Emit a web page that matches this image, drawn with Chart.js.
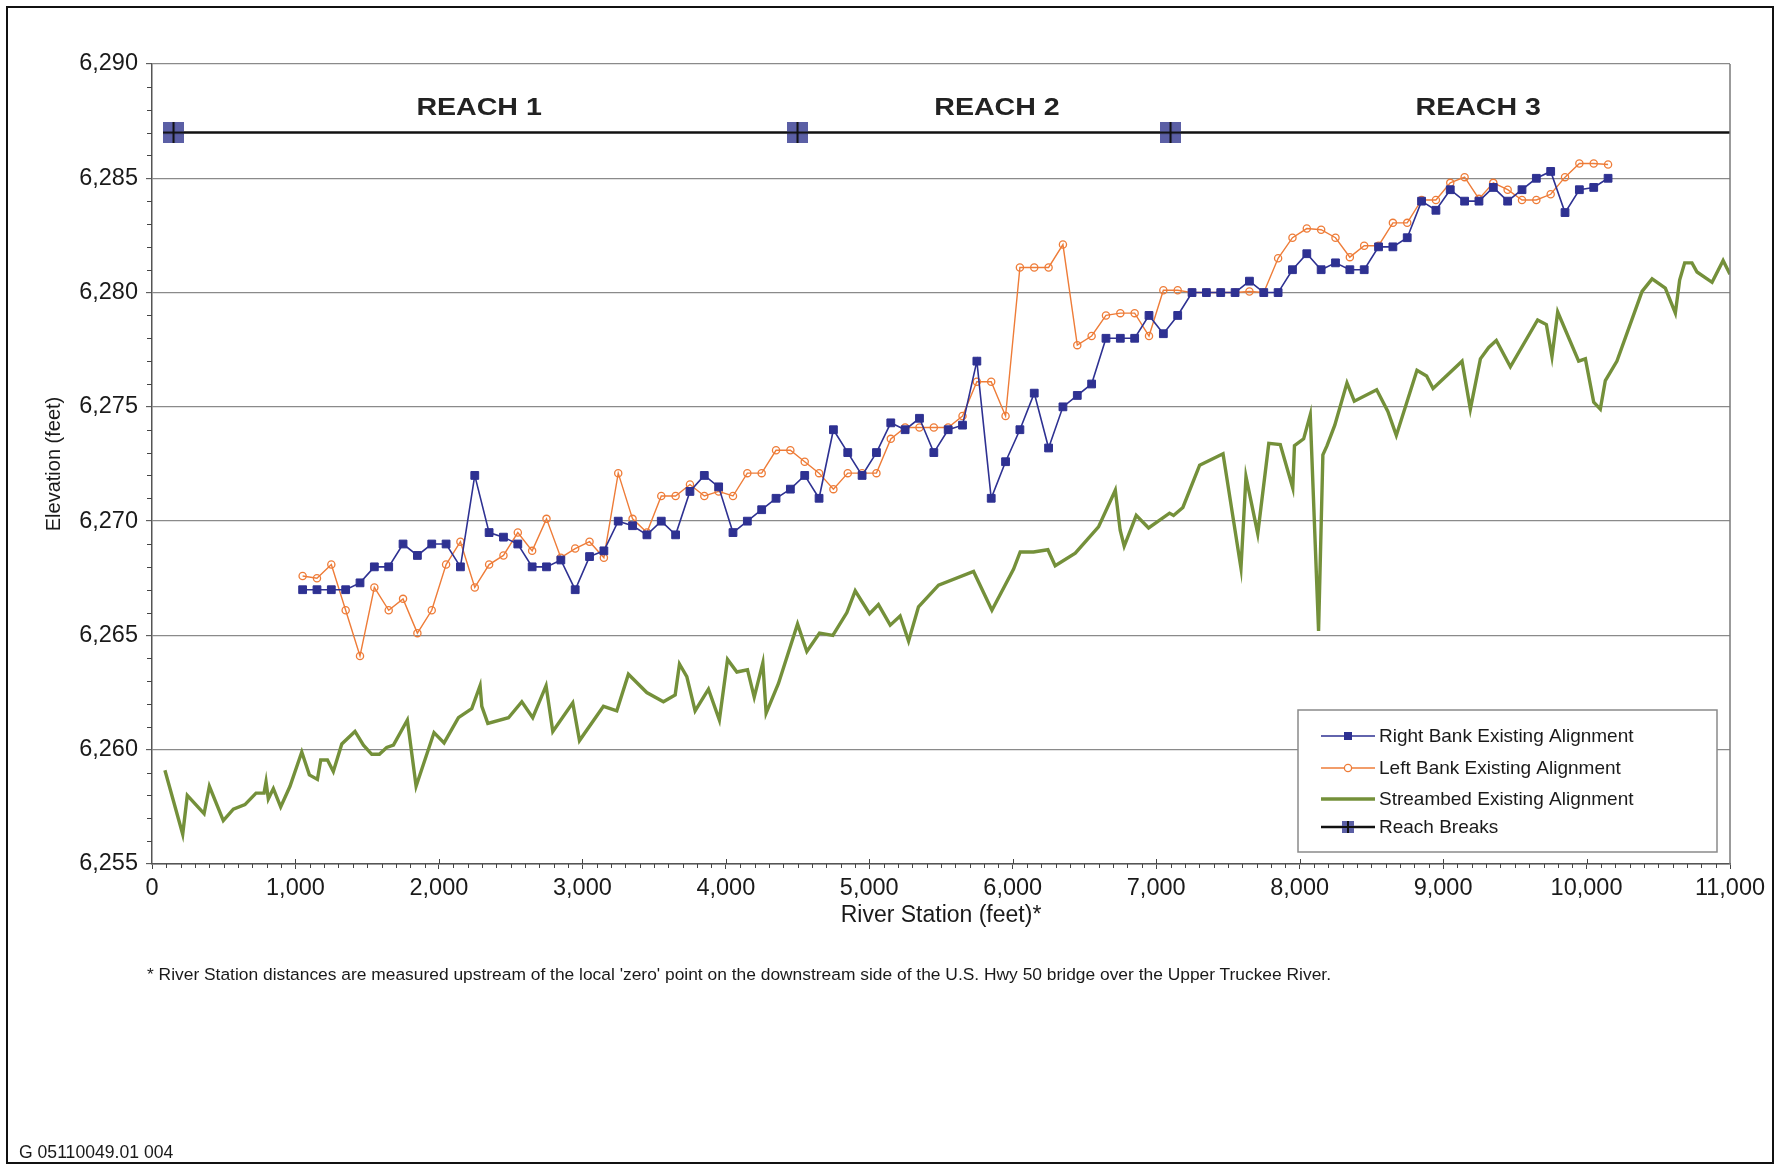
<!DOCTYPE html>
<html lang="en">
<head>
<meta charset="UTF-8">
<title>Upper Truckee River - Existing Alignment Profile</title>
<script src="https://cdn.jsdelivr.net/npm/chart.js"></script>
<style>
  html, body { margin: 0; padding: 0; background: #fff; }
  body {
    width: 1781px;
    height: 1167px;
    position: relative;
    overflow: hidden;
    font-family: 'Liberation Sans', Arial, sans-serif;
    color: #1a1a1a;
  }
  #frame {
    position: absolute;
    left: 6px; top: 6px;
    width: 1768px; height: 1158px;
    border: 2.5px solid #111;
    box-sizing: border-box;
  }
  #chart { position: absolute; left: 0; top: 0; }
  .note {
    position: absolute;
    white-space: nowrap;
    line-height: 1;
  }
  #footnote { left: 147px; top: 966px; font-size: 17.4px; }
  #code { left: 19px; top: 1144px; font-size: 17.6px; }
</style>
</head>
<body>

<div id="frame"></div>
<canvas id="chart" width="1781" height="1167"></canvas>
<div class="note" id="footnote">* River Station distances are measured upstream of the local 'zero' point on the downstream side of the U.S. Hwy 50 bridge over the Upper Truckee River.</div>
<div class="note" id="code">G 05110049.01 004</div>

<script>
  // river stations (feet) of the surveyed bank points
  const bankStations = [
    1050, 1150, 1250, 1350, 1450, 1550, 1650, 1750, 1850, 1950,
    2050, 2150, 2250, 2350, 2450, 2550, 2650, 2750, 2850, 2950,
    3050, 3150, 3250, 3350, 3450, 3550, 3650, 3750, 3850, 3950,
    4050, 4150, 4250, 4350, 4450, 4550, 4650, 4750, 4850, 4950,
    5050, 5150, 5250, 5350, 5450, 5550, 5650, 5750, 5850, 5950,
    6050, 6150, 6250, 6350, 6450, 6550, 6650, 6750, 6850, 6950,
    7050, 7150, 7250, 7350, 7450, 7550, 7650, 7750, 7850, 7950,
    8050, 8150, 8250, 8350, 8450, 8550, 8650, 8750, 8850, 8950,
    9050, 9150, 9250, 9350, 9450, 9550, 9650, 9750, 9850, 9950,
    10050, 10150
  ];

  const rightBank = [
    6267, 6267, 6267, 6267, 6267.3, 6268, 6268, 6269, 6268.5, 6269,
    6269, 6268, 6272, 6269.5, 6269.3, 6269, 6268, 6268, 6268.3, 6267,
    6268.45, 6268.7, 6270, 6269.8, 6269.4, 6270, 6269.4, 6271.3, 6272, 6271.5,
    6269.5, 6270, 6270.5, 6271, 6271.4, 6272, 6271, 6274, 6273, 6272,
    6273, 6274.3, 6274, 6274.5, 6273, 6274, 6274.2, 6277, 6271, 6272.6,
    6274, 6275.6, 6273.2, 6275, 6275.5, 6276, 6278, 6278, 6278, 6279,
    6278.2, 6279, 6280, 6280, 6280, 6280, 6280.5, 6280, 6280, 6281,
    6281.7, 6281, 6281.3, 6281, 6281, 6282, 6282, 6282.4, 6284, 6283.6,
    6284.5, 6284, 6284, 6284.6, 6284, 6284.5, 6285, 6285.3, 6283.5, 6284.5,
    6284.6, 6285
  ];

  const leftBank = [
    6267.6, 6267.5, 6268.1, 6266.1, 6264.1, 6267.1, 6266.1, 6266.6, 6265.1, 6266.1,
    6268.1, 6269.1, 6267.1, 6268.1, 6268.5, 6269.5, 6268.7, 6270.1, 6268.4, 6268.8,
    6269.1, 6268.4, 6272.1, 6270.1, 6269.5, 6271.1, 6271.1, 6271.6, 6271.1, 6271.3,
    6271.1, 6272.1, 6272.1, 6273.1, 6273.1, 6272.6, 6272.1, 6271.4, 6272.1, 6272.1,
    6272.1, 6273.6, 6274.1, 6274.1, 6274.1, 6274.1, 6274.6, 6276.1, 6276.1, 6274.6,
    6281.1, 6281.1, 6281.1, 6282.1, 6277.7, 6278.1, 6279, 6279.1, 6279.1, 6278.1,
    6280.1, 6280.1, 6280, 6280, 6280, 6280, 6280.05, 6280, 6281.5, 6282.4,
    6282.8, 6282.75, 6282.4, 6281.55, 6282.05, 6282.05, 6283.05, 6283.05, 6284.05, 6284.05,
    6284.8, 6285.05, 6284.1, 6284.8, 6284.5, 6284.05, 6284.05, 6284.3, 6285.05, 6285.65,
    6285.65, 6285.6
  ];

  // streambed thalweg, irregular stations
  const streamStations = [
    90, 214, 246, 363, 400, 497, 567, 648, 725, 781,
    795, 811, 846, 897, 962, 1044, 1097, 1153, 1176, 1223,
    1264, 1323, 1415, 1474, 1532, 1585, 1636, 1683, 1780, 1841,
    1966, 2036, 2136, 2229, 2287, 2299, 2341, 2485, 2578, 2654,
    2747, 2794, 2933, 2980, 3147, 3240, 3321, 3449, 3565, 3647,
    3677, 3728, 3786, 3879, 3955, 4012, 4077, 4151, 4198, 4258,
    4281, 4367, 4500, 4565, 4653, 4746, 4844, 4902, 5002, 5064,
    5146, 5215, 5274, 5343, 5483, 5727, 5855, 6006, 6052, 6145,
    6245, 6296, 6436, 6598, 6715, 6749, 6777, 6861, 6947, 7093,
    7121, 7186, 7303, 7466, 7591, 7626, 7708, 7785, 7865, 7952,
    7964, 8028, 8074, 8132, 8162, 8191, 8245, 8330, 8381, 8537,
    8615, 8674, 8818, 8885, 8930, 9132, 9190, 9260, 9318, 9371,
    9469, 9659, 9720, 9759, 9799, 9945, 9992, 10050, 10096, 10131,
    10212, 10387, 10457, 10549, 10619, 10649, 10684, 10735, 10770, 10875,
    10952, 11000
  ];

  const streambed = [
    6259.1, 6256.3, 6258.0, 6257.2, 6258.4, 6256.9, 6257.4, 6257.6, 6258.1, 6258.1,
    6258.6, 6257.85, 6258.3, 6257.5, 6258.4, 6259.9, 6258.9, 6258.7, 6259.55, 6259.55,
    6259.05, 6260.25, 6260.8, 6260.2, 6259.8, 6259.8, 6260.1, 6260.2, 6261.3, 6258.4,
    6260.75, 6260.3, 6261.4, 6261.8, 6262.8, 6261.9, 6261.15, 6261.4, 6262.1, 6261.4,
    6262.8, 6260.8, 6262.05, 6260.4, 6261.9, 6261.7, 6263.3, 6262.5, 6262.1, 6262.4,
    6263.75, 6263.2, 6261.7, 6262.65, 6261.3, 6263.95, 6263.4, 6263.5, 6262.3, 6263.8,
    6261.6, 6262.9, 6265.5, 6264.3, 6265.1, 6265.0, 6266.0, 6266.95, 6265.95, 6266.35,
    6265.45, 6265.85, 6264.75, 6266.25, 6267.2, 6267.8, 6266.1, 6267.9, 6268.65, 6268.65,
    6268.75, 6268.05, 6268.6, 6269.75, 6271.35, 6269.6, 6268.9, 6270.25, 6269.7, 6270.35,
    6270.25, 6270.6, 6272.45, 6272.95, 6267.95, 6271.95, 6269.45, 6273.4, 6273.35, 6271.45,
    6273.3, 6273.6, 6274.65, 6265.2, 6272.9, 6273.3, 6274.2, 6276.05, 6275.25, 6275.75,
    6274.8, 6273.75, 6276.6, 6276.35, 6275.8, 6277.0, 6274.9, 6277.1, 6277.6, 6277.9,
    6276.75, 6278.8, 6278.6, 6277.2, 6279.15, 6277.0, 6277.1, 6275.2, 6274.9, 6276.15,
    6277.0, 6280.05, 6280.6, 6280.2, 6279.1, 6280.55, 6281.3, 6281.3, 6280.9, 6280.45,
    6281.4, 6280.8
  ];

  // reach break line: markers at the breaks, line runs on to the end of the plot
  const reachBreakStations = [150, 4500, 7100, 11000];
  const reachBreakElev = [6287, 6287, 6287, 6287];
  const reachNames = ['REACH 1', 'REACH 2', 'REACH 3'];
  const reachNameStations = [2280, 5890, 9245];
  const reachNameElev = 6288.08;

  const xTicks = [0, 1000, 2000, 3000, 4000, 5000, 6000, 7000, 8000, 9000, 10000, 11000];
  const yTicks = [6255, 6260, 6265, 6270, 6275, 6280, 6285, 6290];

  const FONT = "'Liberation Sans', Arial, sans-serif";
  const BLUE = '#2e3192';
  const ORANGE = '#ee7c38';
  const GREEN = '#74903a';
  const BREAK_FILL = '#5b5fa5';

  function pts(xs, ys) {
    return xs.map((x, i) => ({ x: x, y: ys[i] }));
  }

  function breakMarker(size) {
    const c = document.createElement('canvas');
    c.width = size; c.height = size;
    const g = c.getContext('2d');
    g.fillStyle = BREAK_FILL;
    g.fillRect(0, 0, size, size);
    g.strokeStyle = '#111';
    g.lineWidth = 2;
    g.beginPath();
    g.moveTo(size / 2, 0); g.lineTo(size / 2, size);
    g.moveTo(0, size / 2); g.lineTo(size, size / 2);
    g.stroke();
    return c;
  }
  const bigBreak = breakMarker(21);
  const smallBreak = breakMarker(12);

  const extras = {
    id: 'extras',
    afterDatasetsDraw(chart) {
      const { ctx, scales: { x, y } } = chart;
      ctx.save();
      ctx.fillStyle = '#222';
      ctx.font = 'bold 24px ' + FONT;
      ctx.textAlign = 'center';
      ctx.textBaseline = 'middle';
      reachNames.forEach((name, i) => {
        // the original lettering is a wide bold face; stretch a little
        ctx.save();
        ctx.translate(x.getPixelForValue(reachNameStations[i]), y.getPixelForValue(reachNameElev));
        ctx.scale(1.19, 1);
        ctx.fillText(name, 0, 0);
        ctx.restore();
      });
      ctx.restore();
    },
    afterDraw(chart) {
      const { ctx, chartArea: a, scales: { x, y } } = chart;
      ctx.save();

      // right side of plot frame
      ctx.strokeStyle = '#7a7a7a';
      ctx.lineWidth = 1.5;
      ctx.beginPath();
      ctx.moveTo(a.right, a.top);
      ctx.lineTo(a.right, a.bottom);
      ctx.stroke();

      // minor ticks
      ctx.strokeStyle = '#444';
      ctx.lineWidth = 1;
      ctx.beginPath();
      for (let v = 6256; v < 6290; v++) {
        if (v % 5 === 0) continue;
        const py = Math.round(y.getPixelForValue(v)) + 0.5;
        ctx.moveTo(a.left - 5, py);
        ctx.lineTo(a.left, py);
      }
      for (let v = 100; v < 11000; v += 100) {
        const px = Math.round(x.getPixelForValue(v)) + 0.5;
        if (v % 1000 === 0) {
          ctx.moveTo(px, a.bottom - 5);
          ctx.lineTo(px, a.bottom);
        } else {
          ctx.moveTo(px, a.bottom);
          ctx.lineTo(px, a.bottom + 4);
        }
      }
      ctx.stroke();

      // legend box
      const lx = 1298, ly = 710, lw = 419, lh = 142;
      ctx.fillStyle = '#fff';
      ctx.fillRect(lx, ly, lw, lh);
      ctx.strokeStyle = '#8a8a8a';
      ctx.lineWidth = 1.5;
      ctx.strokeRect(lx, ly, lw, lh);

      const rows = [736, 768, 799, 827];
      const x0 = 1321, x1 = 1375, xm = 1348;
      ctx.font = '19px ' + FONT;
      ctx.textBaseline = 'middle';
      ctx.textAlign = 'left';
      chart.data.datasets.forEach((ds, i) => {
        const ry = rows[i];
        ctx.strokeStyle = ds.borderColor;
        ctx.lineWidth = i === 2 ? 3.4 : (i === 3 ? 2.5 : 1.4);
        ctx.beginPath();
        ctx.moveTo(x0, ry);
        ctx.lineTo(x1, ry);
        ctx.stroke();
        if (i === 0) {
          ctx.fillStyle = BLUE;
          ctx.fillRect(xm - 4, ry - 4, 8, 8);
        } else if (i === 1) {
          ctx.fillStyle = '#fff';
          ctx.strokeStyle = ORANGE;
          ctx.lineWidth = 1.3;
          ctx.beginPath();
          ctx.arc(xm, ry, 3.6, 0, Math.PI * 2);
          ctx.fill();
          ctx.stroke();
        } else if (i === 3) {
          ctx.drawImage(smallBreak, xm - 6, ry - 6);
        }
        ctx.fillStyle = '#1a1a1a';
        ctx.fillText(ds.label, 1379, ry + 1);
      });

      ctx.restore();
    }
  };

  const ctx = document.getElementById('chart').getContext('2d');
  new Chart(ctx, {
    type: 'line',
    data: {
      datasets: [
        {
          label: 'Right Bank Existing Alignment',
          data: pts(bankStations, rightBank),
          borderColor: BLUE,
          backgroundColor: BLUE,
          borderWidth: 1.6,
          pointStyle: 'rect',
          pointRadius: 5.5,
          pointBorderWidth: 1,
          pointBackgroundColor: BLUE,
          tension: 0
        },
        {
          label: 'Left Bank Existing Alignment',
          data: pts(bankStations, leftBank),
          borderColor: ORANGE,
          backgroundColor: 'rgba(0,0,0,0)',
          borderWidth: 1.4,
          pointStyle: 'circle',
          pointRadius: 3.6,
          pointBorderWidth: 1.3,
          pointBackgroundColor: 'rgba(0,0,0,0)',
          tension: 0
        },
        {
          label: 'Streambed Existing Alignment',
          data: pts(streamStations, streambed),
          borderColor: GREEN,
          backgroundColor: GREEN,
          borderWidth: 3.4,
          pointRadius: 0,
          tension: 0
        },
        {
          label: 'Reach Breaks',
          data: pts(reachBreakStations, reachBreakElev),
          borderColor: '#111',
          backgroundColor: BREAK_FILL,
          borderWidth: 2.5,
          pointStyle: bigBreak,
          pointRadius: [11, 11, 11, 0],
          tension: 0
        }
      ]
    },
    options: {
      responsive: false,
      devicePixelRatio: 1,
      animation: false,
      events: [],
      layout: { padding: { left: 0, top: 64, right: 51, bottom: 233 } },
      plugins: {
        legend: { display: false },
        tooltip: { enabled: false }
      },
      scales: {
        x: {
          type: 'linear',
          min: 0,
          max: 11000,
          afterBuildTicks: (s) => { s.ticks = xTicks.map(v => ({ value: v })); },
          afterFit: (s) => { s.height = 70; },
          grid: { drawOnChartArea: false, drawTicks: true, tickLength: 5, tickColor: '#444', tickWidth: 1 },
          border: { display: true, color: '#555', width: 1.5 },
          ticks: {
            autoSkip: false,
            maxRotation: 0,
            padding: 5,
            color: '#1a1a1a',
            font: { family: FONT, size: 23.5 }
          },
          title: {
            display: true,
            text: 'River Station (feet)*',
            color: '#1a1a1a',
            font: { family: FONT, size: 23 },
            padding: { top: 0, bottom: 5 }
          }
        },
        y: {
          type: 'linear',
          min: 6255,
          max: 6290,
          afterBuildTicks: (s) => { s.ticks = yTicks.map(v => ({ value: v })); },
          afterFit: (s) => { s.width = 152; },
          grid: { color: '#8a8a8a', lineWidth: 1.3, tickLength: 6, tickColor: '#444', tickWidth: 1 },
          border: { display: true, color: '#555', width: 1.5 },
          ticks: {
            padding: 8,
            color: '#1a1a1a',
            font: { family: FONT, size: 23.5 }
          },
          title: {
            display: true,
            text: 'Elevation (feet)',
            color: '#1a1a1a',
            font: { family: FONT, size: 20 },
            padding: { top: 42, bottom: 0 }
          }
        }
      }
    },
    plugins: [extras]
  });
</script>
</body>
</html>
